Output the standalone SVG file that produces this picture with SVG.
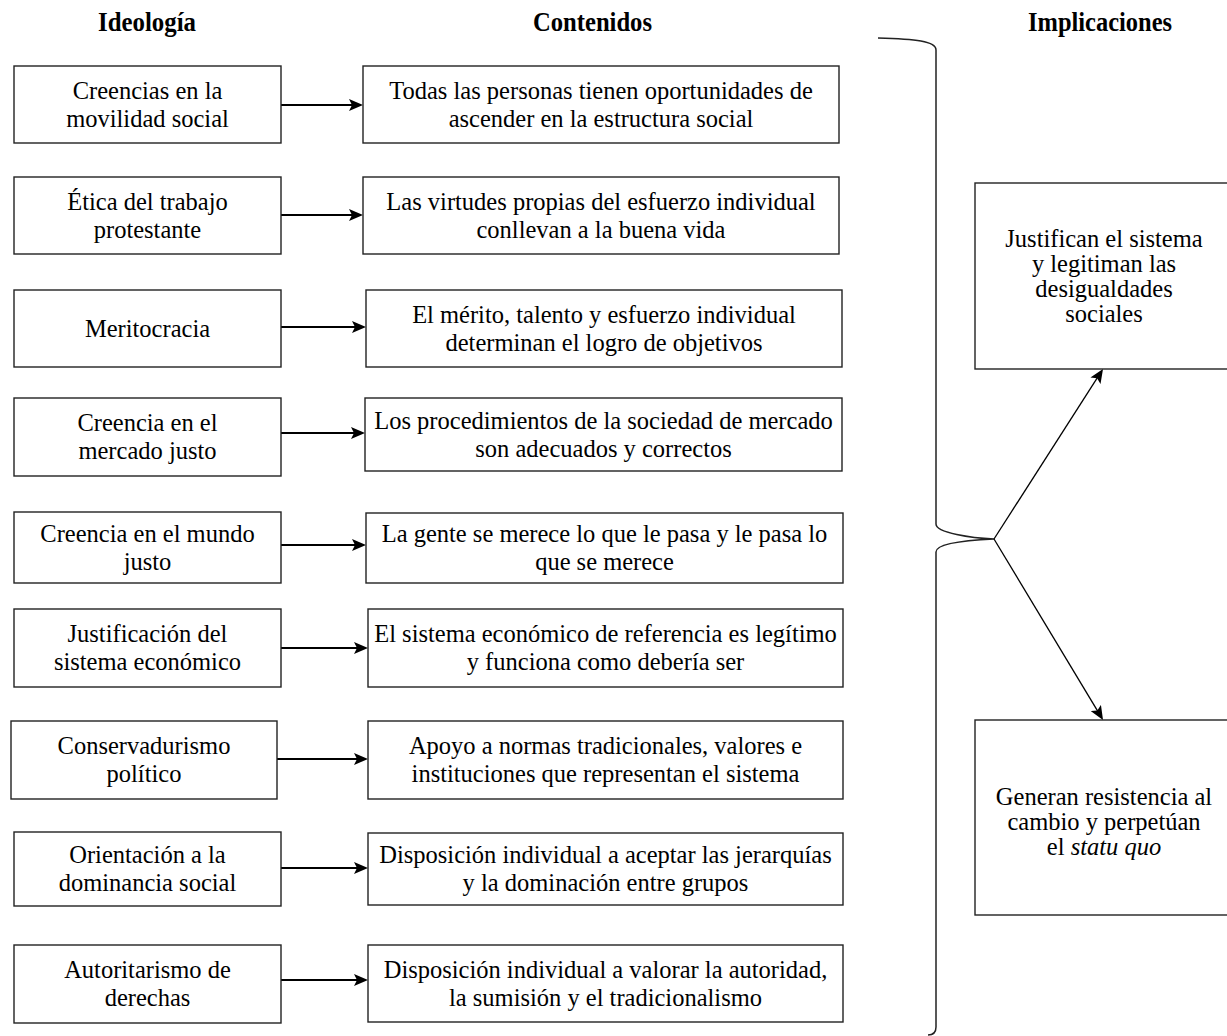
<svg xmlns="http://www.w3.org/2000/svg" width="1227" height="1036" viewBox="0 0 1227 1036">
<defs>
<style>
.box{fill:#fff;stroke:#222;stroke-width:1.4}
.t{font-family:"Liberation Serif","Times New Roman",serif;font-size:24.5px;fill:#000;text-anchor:middle}
.h{font-family:"Liberation Serif","Times New Roman",serif;font-size:27px;font-weight:bold;fill:#000}
.ar{stroke:#000;stroke-width:2;fill:none}
.ad{stroke:#000;stroke-width:1.3;fill:none}
.br{stroke:#222;stroke-width:1.5;fill:none}
</style>
<marker id="ah" markerWidth="15" markerHeight="12" refX="6" refY="6" orient="auto" markerUnits="userSpaceOnUse">
<path d="M0,0 L14,6 L0,12 L3,6 z" fill="#000"/>
</marker>
<marker id="ah2" markerWidth="15" markerHeight="12" refX="6" refY="6" orient="auto" markerUnits="userSpaceOnUse">
<path d="M0,0 L14,6 L0,12 L3,6 z" fill="#000"/>
</marker>
</defs>
<rect width="1227" height="1036" fill="#fff"/>

<g id="headers">
<text class="h" x="98" y="31" textLength="98" lengthAdjust="spacingAndGlyphs">Ideología</text>
<text class="h" x="533" y="31" textLength="119" lengthAdjust="spacingAndGlyphs">Contenidos</text>
<text class="h" x="1028" y="31" textLength="144" lengthAdjust="spacingAndGlyphs">Implicaciones</text>
</g>

<g id="connectors">
<line class="ar" x1="281" y1="105" x2="355" y2="105" marker-end="url(#ah)"/>
<line class="ar" x1="281" y1="215" x2="355" y2="215" marker-end="url(#ah)"/>
<line class="ar" x1="281" y1="327" x2="358" y2="327" marker-end="url(#ah)"/>
<line class="ar" x1="281" y1="433" x2="357" y2="433" marker-end="url(#ah)"/>
<line class="ar" x1="281" y1="545" x2="358" y2="545" marker-end="url(#ah)"/>
<line class="ar" x1="281" y1="648" x2="360" y2="648" marker-end="url(#ah)"/>
<line class="ar" x1="277" y1="759" x2="360" y2="759" marker-end="url(#ah)"/>
<line class="ar" x1="281" y1="868" x2="360" y2="868" marker-end="url(#ah)"/>
<line class="ar" x1="281" y1="980" x2="360" y2="980" marker-end="url(#ah)"/>
<path id="brace" class="br" d="M878,38 C915,39 936,41 936,50 L936,524 C936,533 972,538 994,539 C972,540 936,543 936,552 L936,1027 C936,1032 933,1035 928,1035"/>
<line class="ad" x1="994" y1="539" x2="1098.7" y2="375.7" marker-end="url(#ah2)"/>
<line class="ad" x1="994" y1="539" x2="1098.9" y2="713.1" marker-end="url(#ah2)"/>
</g>

<g id="row1-ideologia"><rect class="box" x="14" y="66" width="267" height="77"/><text class="t" x="147.5" y="98.5">Creencias en la</text><text class="t" x="147.5" y="126.5">movilidad social</text></g>
<g id="row1-contenido"><rect class="box" x="363" y="66" width="476" height="77"/><text class="t" x="601" y="98.5">Todas las personas tienen oportunidades de</text><text class="t" x="601" y="126.5">ascender en la estructura social</text></g>

<g id="row2-ideologia"><rect class="box" x="14" y="177" width="267" height="77"/><text class="t" x="147.5" y="209.5">Ética del trabajo</text><text class="t" x="147.5" y="237.5">protestante</text></g>
<g id="row2-contenido"><rect class="box" x="363" y="177" width="476" height="77"/><text class="t" x="601" y="209.5">Las virtudes propias del esfuerzo individual</text><text class="t" x="601" y="237.5">conllevan a la buena vida</text></g>

<g id="row3-ideologia"><rect class="box" x="14" y="290" width="267" height="77"/><text class="t" x="147.5" y="336.5">Meritocracia</text></g>
<g id="row3-contenido"><rect class="box" x="366" y="290" width="476" height="77"/><text class="t" x="604" y="322.5">El mérito, talento y esfuerzo individual</text><text class="t" x="604" y="350.5">determinan el logro de objetivos</text></g>

<g id="row4-ideologia"><rect class="box" x="14" y="398" width="267" height="78"/><text class="t" x="147.5" y="431">Creencia en el</text><text class="t" x="147.5" y="459">mercado justo</text></g>
<g id="row4-contenido"><rect class="box" x="365" y="398" width="477" height="73"/><text class="t" x="603.5" y="428.5">Los procedimientos de la sociedad de mercado</text><text class="t" x="603.5" y="456.5">son adecuados y correctos</text></g>

<g id="row5-ideologia"><rect class="box" x="14" y="512" width="267" height="71"/><text class="t" x="147.5" y="541.5">Creencia en el mundo</text><text class="t" x="147.5" y="569.5">justo</text></g>
<g id="row5-contenido"><rect class="box" x="366" y="513" width="477" height="70"/><text class="t" x="604.5" y="542">La gente se merece lo que le pasa y le pasa lo</text><text class="t" x="604.5" y="570">que se merece</text></g>

<g id="row6-ideologia"><rect class="box" x="14" y="609" width="267" height="78"/><text class="t" x="147.5" y="642">Justificación del</text><text class="t" x="147.5" y="670">sistema económico</text></g>
<g id="row6-contenido"><rect class="box" x="368" y="609" width="475" height="78"/><text class="t" x="605.5" y="642">El sistema económico de referencia es legítimo</text><text class="t" x="605.5" y="670">y funciona como debería ser</text></g>

<g id="row7-ideologia"><rect class="box" x="11" y="721" width="266" height="78"/><text class="t" x="144" y="754">Conservadurismo</text><text class="t" x="144" y="782">político</text></g>
<g id="row7-contenido"><rect class="box" x="368" y="721" width="475" height="78"/><text class="t" x="605.5" y="754">Apoyo a normas tradicionales, valores e</text><text class="t" x="605.5" y="782">instituciones que representan el sistema</text></g>

<g id="row8-ideologia"><rect class="box" x="14" y="832" width="267" height="74"/><text class="t" x="147.5" y="863">Orientación a la</text><text class="t" x="147.5" y="891">dominancia social</text></g>
<g id="row8-contenido"><rect class="box" x="368" y="833" width="475" height="72"/><text class="t" x="605.5" y="863">Disposición individual a aceptar las jerarquías</text><text class="t" x="605.5" y="891">y la dominación entre grupos</text></g>

<g id="row9-ideologia"><rect class="box" x="14" y="945" width="267" height="78"/><text class="t" x="147.5" y="978">Autoritarismo de</text><text class="t" x="147.5" y="1006">derechas</text></g>
<g id="row9-contenido"><rect class="box" x="368" y="945" width="475" height="77"/><text class="t" x="605.5" y="977.5">Disposición individual a valorar la autoridad,</text><text class="t" x="605.5" y="1005.5">la sumisión y el tradicionalismo</text></g>

<g id="impl-justifican"><rect class="box" x="975" y="183" width="260" height="186"/><text class="t" x="1104" y="246.5">Justifican el sistema</text><text class="t" x="1104" y="271.5">y legitiman las</text><text class="t" x="1104" y="296.5">desigualdades</text><text class="t" x="1104" y="321.5">sociales</text></g>

<g id="impl-generan"><rect class="box" x="975" y="720" width="260" height="195"/><text class="t" x="1104" y="805">Generan resistencia al</text><text class="t" x="1104" y="830">cambio y perpetúan</text><text class="t" x="1104" y="855">el <tspan font-style="italic">statu quo</tspan></text></g>
</svg>
